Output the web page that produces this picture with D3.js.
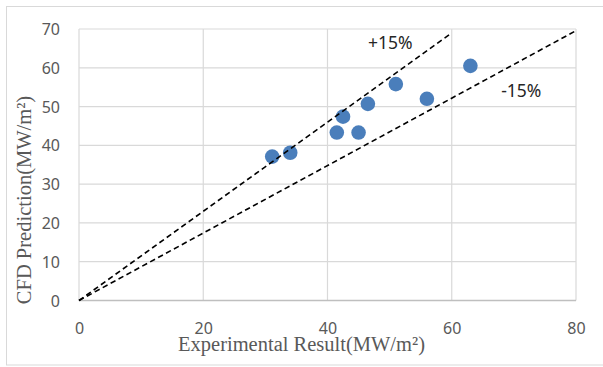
<!DOCTYPE html>
<html>
<head>
<meta charset="utf-8">
<script src="https://cdn.jsdelivr.net/npm/d3@7"></script>
<style>
  body { margin: 0; background: #fff; }
  svg { display: block; }
</style>
</head>
<body>
<div id="chart"></div>
<script>
// measured points (experimental vs CFD)
const experimental = [31.1, 34.0, 41.5, 42.5, 45.0, 46.5, 51.0, 56.0, 63.0];
const predicted = [37.1, 38.1, 43.3, 47.4, 43.3, 50.7, 55.8, 52.0, 60.5];
const xTicks = [0, 20, 40, 60, 80];
const yTicks = [0, 10, 20, 30, 40, 50, 60, 70];
// ±15% bounds: [x-end, slope]
const boundNames = ["+15%", "-15%"];
const boundEnds = [60, 80];
const boundSlopes = [1.15, 1 / 1.15];
const boundLabelPos = [[50.1, 64.8], [71.2, 52.4]];

const width = 603, height = 367;
const margin = { top: 29, right: 27, bottom: 66.5, left: 79 };

const svg = d3.select("#chart").append("svg")
  .attr("width", width).attr("height", height);

// outer frame
svg.append("rect")
  .attr("x", 6.5).attr("y", 6.5)
  .attr("width", 610).attr("height", 358.5)
  .attr("fill", "none").attr("stroke", "#d9d9d9").attr("stroke-width", 1);

const x = d3.scaleLinear().domain([0, 80]).range([margin.left, width - margin.right]);
const y = d3.scaleLinear().domain([0, 70]).range([height - margin.bottom, margin.top]);

const g = svg.append("g");

// gridlines
g.selectAll(".gx").data(xTicks).enter().append("line")
  .attr("x1", d => x(d)).attr("x2", d => x(d))
  .attr("y1", y(0)).attr("y2", y(70))
  .attr("stroke", "#d9d9d9").attr("stroke-width", 1.2);
g.selectAll(".gy").data(yTicks).enter().append("line")
  .attr("x1", x(0)).attr("x2", x(80))
  .attr("y1", d => y(d)).attr("y2", d => y(d))
  .attr("stroke", "#d9d9d9").attr("stroke-width", 1.2);

// axis baseline
g.append("line")
  .attr("x1", x(0)).attr("x2", x(80)).attr("y1", y(0)).attr("y2", y(0))
  .attr("stroke", "#bfbfbf").attr("stroke-width", 1.5);

const tickFont = "'Noto Sans', 'Open Sans', sans-serif";

// tick labels
const xAxis = svg.append("g")
  .attr("transform", `translate(0,${y(0) + 27.5})`)
  .call(d3.axisBottom(x).tickValues(xTicks).tickSize(0).tickPadding(0));
xAxis.select(".domain").remove();
xAxis.selectAll("text")
  .attr("dy", "0.35em")
  .style("font-family", tickFont)
  .style("font-size", "16px").attr("fill", "#595959");

const yAxis = svg.append("g")
  .attr("transform", `translate(${x(0) - 19},0)`)
  .call(d3.axisLeft(y).tickValues(yTicks).tickSize(0).tickPadding(0));
yAxis.select(".domain").remove();
yAxis.selectAll("text")
  .attr("dy", "0.35em")
  .style("font-family", tickFont)
  .style("font-size", "16px").attr("fill", "#595959");

// points
svg.selectAll(".pt").data(experimental).enter().append("circle")
  .attr("cx", d => x(d))
  .attr("cy", (d, i) => y(predicted[i]))
  .attr("r", 7.3)
  .attr("fill", "#4a7ebb");

// ±15% dashed lines
svg.selectAll(".bound").data(boundEnds).enter().append("line")
  .attr("x1", x(0)).attr("y1", y(0))
  .attr("x2", d => x(d)).attr("y2", (d, i) => y(d * boundSlopes[i]))
  .attr("stroke", "#000").attr("stroke-width", 1.6)
  .attr("stroke-dasharray", "5.5,3.5");

svg.selectAll(".blabel").data(boundNames).enter().append("text")
  .attr("x", (d, i) => x(boundLabelPos[i][0]))
  .attr("y", (d, i) => y(boundLabelPos[i][1]))
  .attr("text-anchor", "middle")
  .style("font-family", tickFont)
  .style("font-size", "17.5px").attr("fill", "#262626")
  .text(d => d);

// axis titles
const titleFont = "'Liberation Serif', 'Times New Roman', serif";
svg.append("text")
  .attr("x", 301.5).attr("y", 350.5)
  .attr("text-anchor", "middle")
  .style("font-family", titleFont)
  .style("font-size", "20.5px").attr("fill", "#595959")
  .text("Experimental Result(MW/m²)");

svg.append("text")
  .attr("transform", "translate(31,200) rotate(-90)")
  .attr("text-anchor", "middle")
  .style("font-family", titleFont)
  .style("font-size", "20.5px").attr("fill", "#595959")
  .text("CFD Prediction(MW/m²)");
</script>
</body>
</html>
